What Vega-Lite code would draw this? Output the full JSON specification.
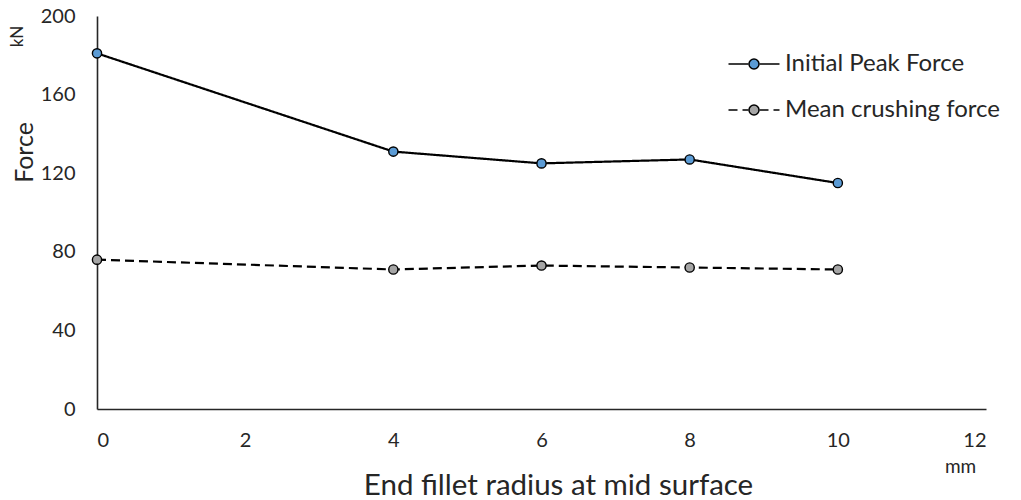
{
  "$schema": "https://vega.github.io/schema/vega-lite/v6.json",
  "autosize": "none",
  "width": 889,
  "height": 393,
  "padding": {"left": 97, "top": 16, "right": 35, "bottom": 91},
  "config": {
    "view": {"stroke": null},
    "font": "Lato",
    "axis": {"labelFont": "Lato", "titleFont": "Lato", "labelColor": "#262626", "titleColor": "#262626", "grid": false, "ticks": false, "domainColor": "#262626", "domainWidth": 1.6}
  },
  "data": {
    "values": [
      {"r": 0, "force": 181, "series": "Initial Peak Force"},
      {"r": 4, "force": 131, "series": "Initial Peak Force"},
      {"r": 6, "force": 125, "series": "Initial Peak Force"},
      {"r": 8, "force": 127, "series": "Initial Peak Force"},
      {"r": 10, "force": 115, "series": "Initial Peak Force"},
      {"r": 0, "force": 76, "series": "Mean crushing force"},
      {"r": 4, "force": 71, "series": "Mean crushing force"},
      {"r": 6, "force": 73, "series": "Mean crushing force"},
      {"r": 8, "force": 72, "series": "Mean crushing force"},
      {"r": 10, "force": 71, "series": "Mean crushing force"}
    ]
  },
  "resolve": {"axis": {"x": "independent", "y": "independent"}},
  "layer": [
    {
      "mark": {"type": "line", "color": "black", "strokeWidth": 2.2},
      "encoding": {
        "x": {"field": "r", "type": "quantitative", "scale": {"domain": [0, 12]},
          "axis": {"orient": "bottom", "values": [0, 2, 4, 6, 8, 10, 12], "labelFontSize": 20, "labelPadding": 21, "title": "End fillet radius at mid surface", "titleFontSize": 29.5, "titleFontWeight": "normal", "titleX": 461, "titleY": 85, "titleBaseline": "alphabetic", "titleAlign": "center", "titleAnchor": null}},
        "y": {"field": "force", "type": "quantitative", "scale": {"domain": [0, 200]},
          "axis": {"orient": "left", "values": [0, 40, 80, 120, 160, 200], "labelFontSize": 20, "labelPadding": 22, "title": "Force", "titleFontSize": 25, "titleFontWeight": "normal", "titleX": -73, "titleY": 136, "titleAngle": -90, "titleAlign": "center", "titleBaseline": "middle"}},
        "strokeDash": {"field": "series", "type": "nominal", "scale": {"range": [[1, 0], [9, 5]]},
          "legend": {"title": null, "orient": "none", "legendX": 645, "legendY": 36, "symbolType": "M-2.55,0H-0.55M0.55,0H2.55", "symbolSize": 400, "labelFontSize": 24, "labelLimit": 400, "labelOffset": 19, "labelColor": "#262626", "rowPadding": 22, "padding": 0,
            "encode": {"symbols": {"update": {"fill": {"value": "transparent"}, "strokeDash": {"scale": "strokeDash", "field": "value"}, "stroke": {"value": "black"}, "strokeWidth": {"value": 2}, "opacity": {"value": 1}}}}}}
      }
    },
    {
      "mark": {"type": "point", "shape": "circle", "filled": true, "stroke": "black", "strokeWidth": 1.4, "opacity": 1, "size": 85},
      "encoding": {
        "x": {"field": "r", "type": "quantitative",
          "axis": {"orient": "bottom", "domain": false, "labels": false, "ticks": false, "title": "mm", "titleFontSize": 19, "titleFontWeight": "normal", "titleX": 863, "titleY": 57, "titleBaseline": "middle", "titleAlign": "center", "titleAnchor": null}},
        "y": {"field": "force", "type": "quantitative",
          "axis": {"orient": "left", "domain": false, "labels": false, "ticks": false, "title": "kN", "titleFontSize": 17, "titleFontWeight": "normal", "titleX": -80, "titleY": 20, "titleAngle": -90, "titleAlign": "center", "titleBaseline": "middle"}},
        "fill": {"field": "series", "type": "nominal", "scale": {"range": ["#5B9BD5", "#A5A5A5"]},
          "legend": {"title": null, "orient": "none", "legendX": 645, "legendY": 36, "symbolType": "M-0.5,0A0.5,0.5 0 1 0 0.5,0A0.5,0.5 0 1 0 -0.5,0Z", "symbolSize": 400, "labelFontSize": 24, "labelLimit": 400, "labelOffset": 19, "labelOpacity": 0, "rowPadding": 22, "padding": 0,
            "encode": {"symbols": {"update": {"fill": {"scale": "fill", "field": "value"}, "stroke": {"value": "black"}, "strokeWidth": {"value": 1.4}, "opacity": {"value": 1}}}, "labels": {"update": {"opacity": {"value": 0}}}}}}
      }
    }
  ]
}
